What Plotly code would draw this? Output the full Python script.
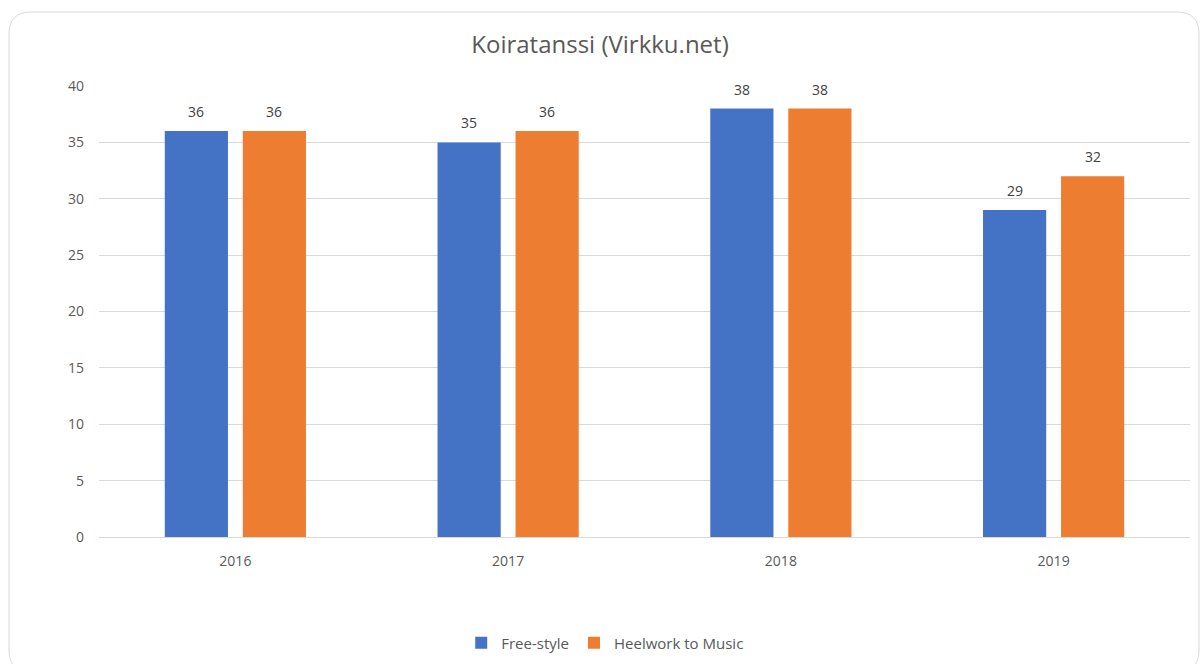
import plotly.graph_objects as go

years = ['2016', '2017', '2018', '2019']
free_style = [36, 35, 38, 29]
heelwork = [36, 36, 38, 32]

W, H = 1200, 664
L, R, T, B = 99, 10, 86, 127
pw, ph = W - L - R, H - T - B
BARGAP, GROUPGAP = 0.428, 0.19


def px_to_paper(x, y):
    # pixel position in the page -> paper coords of the plot area
    return (x - L) / pw, (H - B - y) / ph


fig = go.Figure()
series = [('Free-style', free_style, '#4472c4'), ('Heelwork to Music', heelwork, '#ed7d31')]
for name, vals, col in series:
    fig.add_trace(go.Bar(x=years, y=vals, name=name, marker=dict(color=col, line=dict(width=0))))

# data labels sit a bit higher than plotly's "outside" text, so use annotations
slot = (1 - BARGAP) / len(series)
for j, (name, vals, col) in enumerate(series):
    off = (j - (len(series) - 1) / 2) * slot
    for i, v in enumerate(vals):
        fig.add_annotation(x=i + off, y=v, text=str(v), showarrow=False, yanchor='bottom',
                           yshift=8, font=dict(size=14, color='#404040'))

# rounded chart border
x0, y0, x1, y1, r = 9, 12, 1199, 672, 22
pts = [(x0 + r, y0), (x1 - r, y0), (x1, y0), (x1, y0 + r), (x1, y1 - r), (x1, y1),
       (x1 - r, y1), (x0 + r, y1), (x0, y1), (x0, y1 - r), (x0, y0 + r), (x0, y0), (x0 + r, y0)]
pp = [px_to_paper(*p) for p in pts]
path = 'M {:.5f},{:.5f} L {:.5f},{:.5f} Q {:.5f},{:.5f} {:.5f},{:.5f} L {:.5f},{:.5f} ' \
       'Q {:.5f},{:.5f} {:.5f},{:.5f} L {:.5f},{:.5f} Q {:.5f},{:.5f} {:.5f},{:.5f} ' \
       'L {:.5f},{:.5f} Q {:.5f},{:.5f} {:.5f},{:.5f} Z'.format(*[c for p in pp for c in p])
fig.add_shape(type='path', path=path, xref='paper', yref='paper',
              line=dict(color='#d9d9d9', width=1), layer='below')

fig.update_layout(
    width=W, height=H,
    margin=dict(l=L, r=R, t=T, b=B, autoexpand=False),
    paper_bgcolor='white', plot_bgcolor='white',
    font=dict(family='Open Sans, sans-serif', color='#595959', size=14),
    title=dict(text='Koiratanssi (Virkku.net)', x=0.5, xanchor='center',
               y=1 - 45 / H, yanchor='middle', font=dict(size=24, color='#595959')),
    barmode='group', bargap=BARGAP, bargroupgap=GROUPGAP,
    showlegend=True,
    legend=dict(orientation='h', x=0.464, xanchor='center', yref='container', y=1 - 643 / H,
                yanchor='middle', font=dict(size=15, color='#595959'),
                itemwidth=30, traceorder='normal'),
    xaxis=dict(showgrid=False, showline=False, ticks='', ticklabelstandoff=14,
               tickfont=dict(size=14)),
    yaxis=dict(range=[0, 40], dtick=5, showgrid=True, gridcolor='#d9d9d9', gridwidth=1,
               zeroline=True, zerolinecolor='#d9d9d9', zerolinewidth=1,
               showline=False, ticks='', ticklabelstandoff=14, tickfont=dict(size=14)),
)

# page body has an 8px default margin; drop it so the figure sits at the window origin
fig.write_html('out.html', config={'displayModeBar': False},
               post_script="document.body.style.margin='0';")
